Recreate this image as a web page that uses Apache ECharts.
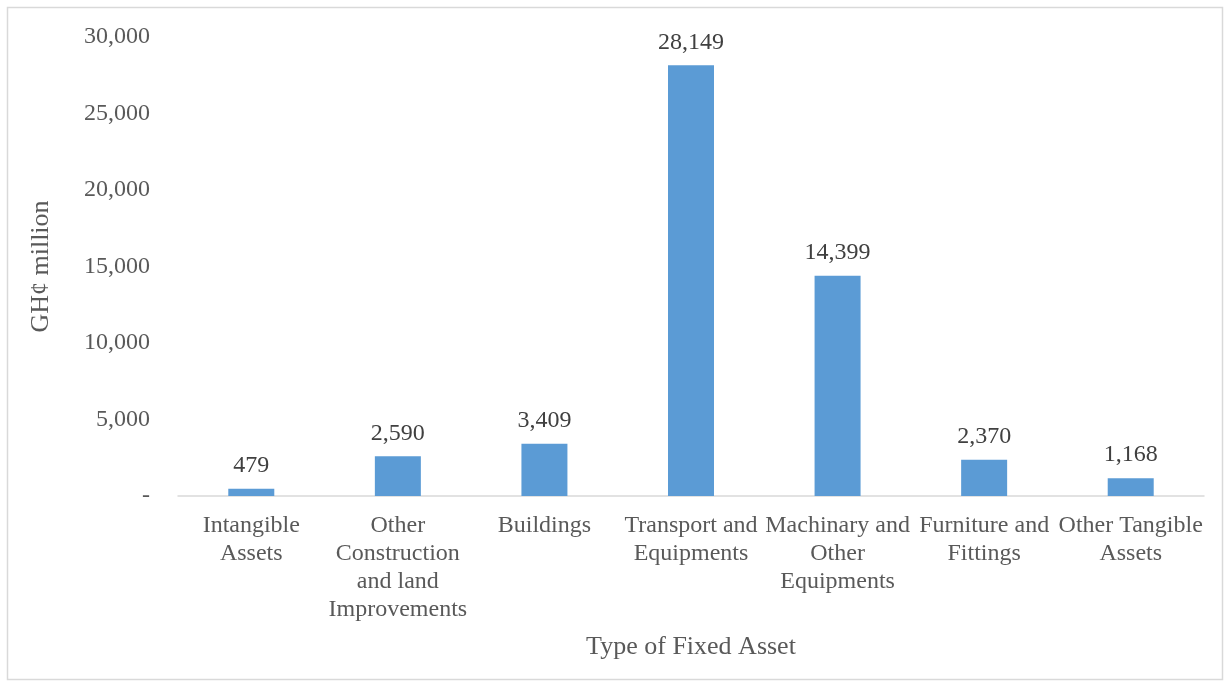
<!DOCTYPE html>
<html>
<head>
<meta charset="utf-8">
<script src="https://cdn.jsdelivr.net/npm/echarts@6/dist/echarts.min.js"></script>
<style>
  html, body { margin: 0; padding: 0; background: #fff; }
  #main { width: 1230px; height: 687px; }
</style>
</head>
<body>
<div id="main"></div>
<script>
// 数据
var categories = [
  'Intangible\nAssets',
  'Other\nConstruction\nand land\nImprovements',
  'Buildings',
  'Transport and\nEquipments',
  'Machinary and\nOther\nEquipments',
  'Furniture and\nFittings',
  'Other Tangible\nAssets'
]
var values = [479, 2590, 3409, 28149, 14399, 2370, 1168]
var yTicks = [0, 5000, 10000, 15000, 20000, 25000, 30000]

var font = '"Liberation Serif", "DejaVu Serif", serif'
var txt = '#595959'

function fmt(v) {
  if (v === 0) return '-'
  return String(v).replace(/\B(?=(\d{3})+(?!\d))/g, ',')
}

var myChart = echarts.init(document.getElementById('main'))

var option = {
  backgroundColor: '#fff',
  animation: false,
  graphic: [{
    type: 'rect',
    shape: { x: 7.5, y: 7.5, width: 1215, height: 672 },
    style: { fill: 'none', stroke: '#d9d9d9', lineWidth: 1.5 },
    silent: true
  }],
  grid: {
    left: 178,
    right: 26,
    top: 37,
    bottom: 191
  },
  xAxis: {
    type: 'category',
    data: categories,
    name: 'Type of Fixed Asset',
    nameLocation: 'middle',
    nameGap: 138,
    nameTextStyle: { fontFamily: font, fontSize: 26, color: txt },
    axisLine: { lineStyle: { color: '#d9d9d9', width: 1.5 } },
    axisTick: { show: false },
    axisLabel: {
      interval: 0,
      margin: 16,
      fontFamily: font,
      fontSize: 24,
      lineHeight: 28,
      color: txt
    }
  },
  yAxis: {
    type: 'value',
    min: yTicks[0],
    max: yTicks[yTicks.length - 1],
    interval: 5000,
    name: 'GH¢ million',
    nameLocation: 'middle',
    nameGap: 124,
    nameRotate: 90,
    nameTextStyle: { fontFamily: font, fontSize: 26, color: txt },
    axisLine: { show: false },
    axisTick: { show: false },
    splitLine: { show: false },
    axisLabel: {
      margin: 28,
      fontFamily: font,
      fontSize: 24,
      color: txt,
      formatter: fmt
    }
  },
  series: [{
    type: 'bar',
    data: values,
    barWidth: 46,
    itemStyle: { color: '#5b9bd5' },
    label: {
      show: true,
      position: 'top',
      distance: 11,
      fontFamily: font,
      fontSize: 24,
      color: '#404040',
      formatter: function (p) { return fmt(p.value) }
    }
  }]
}

myChart.setOption(option)
</script>
</body>
</html>
